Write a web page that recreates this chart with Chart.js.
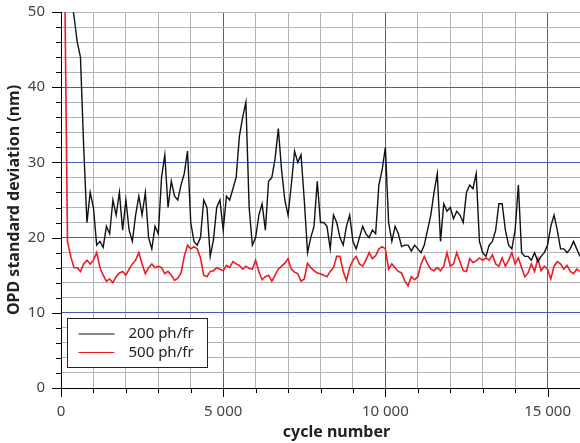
<!DOCTYPE html>
<html>
<head>
<meta charset="utf-8">
<script src="https://cdn.jsdelivr.net/npm/chart.js@4/dist/chart.umd.min.js"></script>
<style>
  html, body { margin: 0; padding: 0; background: #fff; }
  canvas { display: block; }
</style>
</head>
<body>
<canvas id="chart" width="580" height="443"></canvas>
<script>
// cycle number, one sample every 100 cycles
const cycles = [
  0,100,200,300,400,500,600,700,800,900,1000,1100,1200,1300,1400,1500,1600,1700,1800,1900,
  2000,2100,2200,2300,2400,2500,2600,2700,2800,2900,3000,3100,3200,3300,3400,3500,3600,3700,3800,3900,
  4000,4100,4200,4300,4400,4500,4600,4700,4800,4900,5000,5100,5200,5300,5400,5500,5600,5700,5800,5900,
  6000,6100,6200,6300,6400,6500,6600,6700,6800,6900,7000,7100,7200,7300,7400,7500,7600,7700,7800,7900,
  8000,8100,8200,8300,8400,8500,8600,8700,8800,8900,9000,9100,9200,9300,9400,9500,9600,9700,9800,9900,
  10000,10100,10200,10300,10400,10500,10600,10700,10800,10900,11000,11100,11200,11300,11400,11500,11600,11700,11800,11900,
  12000,12100,12200,12300,12400,12500,12600,12700,12800,12900,13000,13100,13200,13300,13400,13500,13600,13700,13800,13900,
  14000,14100,14200,14300,14400,14500,14600,14700,14800,14900,15000,15100,15200,15300,15400,15500,15600,15700,15800,15900,
  16000
]

// OPD standard deviation (nm), 200 photons per frame
const opd200 = [
  90,75,62,52,49.5,46,44,32,22,26,24,19,19.5,18.7,21.5,20.5,25,23,26,21,
  25,21,19.5,23,25.5,23,26,20,18.5,21.5,20.5,28,31,24,27.5,25.5,25,27,28.5,31.5,
  22,19.5,19,20,25,24,17.5,19.7,24,25,21,25.5,25,26.5,28,33.5,36,38,24,19,
  20,23,24.5,21,27.5,28,30.5,34.5,29,25,23,27,31.5,30,31,25,18,20,21.5,27.5,
  22,22,21.5,18.5,23,22,20,19,21.5,23,19.5,18.5,20,21.5,20.5,20,21,20.5,27,29,
  32,22,19.5,21.5,20.5,18.8,19,19,18.2,19,18.5,18,19,21,23,26,28.5,19.5,24.5,23.5,
  24,22.5,23.5,23,22,26,27,26.5,28.5,19.5,18,17.5,19,19.5,21,24.5,24.5,21,19,18.5,
  21,27,18,17.5,17.5,17,18,16.8,17.5,18,19,21.5,23,21,18.5,18.5,18,18.5,19.5,18.5,
  17.5
]

// OPD standard deviation (nm), 500 photons per frame
const opd500 = [
  null,60,19.5,17.5,16,16,15.5,16.5,17,16.5,17,18,16,15,14.2,14.5,14,14.8,15.3,15.5,
  15,15.8,16.5,17,18,16.5,15.2,16,16.5,16,16.2,16,15.2,15.5,15,14.3,14.6,15.3,17.5,19,
  18.5,18.8,18.5,17.3,15,14.8,15.5,15.6,16,15.8,15.6,16.3,16,16.8,16.5,16.3,15.8,16.2,15.9,15.8,
  17,15.5,14.4,14.8,15,14.2,15,15.8,16.2,16.6,17.2,15.8,15.4,15.2,14.2,14.5,16.6,16,15.6,15.3,
  15.2,15,14.8,15.5,16,17.5,17.5,15.5,14.3,16,17,17.5,16.5,16.2,17,18,17.2,17.6,18.5,18.8,
  18.5,15.8,16.5,16,15.5,15.3,14.2,13.6,14.8,14.4,14.8,16.5,17.5,16.5,15.8,15.6,16,15.6,16.2,18,
  16.2,16.5,18,16.8,15.6,15.5,17.2,16.7,16.9,17.3,17,17.3,17,17.7,16.5,16.2,17.3,16.2,17,18,
  16.5,17.3,16,14.8,15.3,16.5,15.5,17.2,15.6,16.2,15.8,14.5,16.2,16.8,16.5,15.8,16.3,15.5,15.2,15.8,
  15.5
]

const seriesLabels = ['200 ph/fr', '500 ph/fr']
const yTitle = 'OPD standard deviation (nm)'
const xTitle = 'cycle number'

const FONT = 'Noto Sans'
const BLUE = '#3f5fb5'
const GRAY = '#b3b3b3'

function fmtThousands(v){
  return String(v).replace(/\B(?=(\d{3})+(?!\d))/g, ' ')
}

// tick marks, legend box and x title drawn on top
const decor = {
  id: 'decor',
  afterDraw(chart){
    const ctx = chart.ctx
    const { left, bottom, right } = chart.chartArea
    const xs = chart.scales.x, ys = chart.scales.y
    ctx.save()
    ctx.strokeStyle = '#000'
    ctx.lineWidth = 1
    ctx.beginPath()
    xs.ticks.forEach(t => {
      const p = Math.round(xs.getPixelForValue(t.value)) + 0.5
      const len = t.value % 5000 === 0 ? 9 : 5
      ctx.moveTo(p, bottom); ctx.lineTo(p, bottom + len)
    })
    ys.ticks.forEach(t => {
      const p = Math.round(ys.getPixelForValue(t.value)) + 0.5
      const len = t.value % 10 === 0 ? 9 : 5
      ctx.moveTo(left, p); ctx.lineTo(left - len, p)
    })
    ctx.stroke()

    // legend
    const bx = left + 6.5, by = bottom - 69.5, bw = 140, bh = 49
    ctx.fillStyle = '#fff'
    ctx.fillRect(bx, by, bw, bh)
    ctx.strokeStyle = '#222'
    ctx.strokeRect(bx, by, bw, bh)
    ctx.font = '15px "' + FONT + '"'
    ctx.textBaseline = 'middle'
    ctx.textAlign = 'left'
    chart.data.datasets.forEach((ds, i) => {
      const ly = by + 15.5 + i * 18.5
      ctx.strokeStyle = ds.borderColor
      ctx.lineWidth = 1.2
      ctx.beginPath(); ctx.moveTo(bx + 11, ly); ctx.lineTo(bx + 47, ly); ctx.stroke()
      ctx.fillStyle = '#222'
      ctx.fillText(ds.label, bx + 61, ly)
    })

    // x axis title
    ctx.font = 'bold 16px "' + FONT + '"'
    ctx.textAlign = 'center'
    ctx.fillStyle = '#222'
    ctx.fillText(xTitle, (left + right) / 2 + 16, 432)
    ctx.restore()
  }
}

const ctx = document.getElementById('chart').getContext('2d')
new Chart(ctx, {
  type: 'line',
  data: {
    datasets: [
      { label: seriesLabels[0], data: cycles.map((c, i) => ({ x: c, y: opd200[i] })), borderColor: '#111', borderWidth: 1.4, pointRadius: 0, tension: 0 },
      { label: seriesLabels[1], data: cycles.map((c, i) => ({ x: c, y: opd500[i] })), borderColor: '#ec1c24', borderWidth: 1.6, pointRadius: 0, tension: 0 }
    ]
  },
  options: {
    responsive: false,
    devicePixelRatio: 1,
    animation: false,
    layout: { padding: { top: 12, right: 0, left: 0, bottom: 0 } },
    plugins: { legend: { display: false }, tooltip: { enabled: false } },
    scales: {
      x: {
        type: 'linear',
        min: 0, max: 16000,
        afterFit: s => { s.height = 55; s.paddingLeft = 0; s.paddingRight = 0 },
        border: { display: true, color: '#000', width: 1 },
        grid: {
          drawTicks: false,
          lineWidth: 1,
          color: c => c.tick.value === 0 ? 'rgba(0,0,0,0)' : (c.tick.value % 5000 === 0 ? BLUE : GRAY)
        },
        ticks: {
          stepSize: 1000,
          autoSkip: false,
          maxRotation: 0,
          padding: 15,
          color: '#444',
          font: { family: FONT, size: 15 },
          callback: v => v % 5000 === 0 ? fmtThousands(v) : ''
        },
        title: { display: false }
      },
      y: {
        min: 0, max: 50,
        afterFit: s => { s.width = 61; s.paddingTop = 0; s.paddingBottom = 0 },
        border: { display: true, color: '#000', width: 1 },
        grid: {
          drawTicks: false,
          lineWidth: 1,
          color: c => c.tick.value === 0 ? 'rgba(0,0,0,0)' : (c.tick.value % 10 === 0 && c.tick.value !== 50 ? BLUE : GRAY)
        },
        ticks: {
          stepSize: 2,
          autoSkip: false,
          padding: 16,
          color: '#444',
          font: { family: FONT, size: 15 },
          callback: v => v % 10 === 0 ? String(v) : ''
        },
        title: {
          display: true,
          text: yTitle,
          color: '#222',
          font: { family: FONT, size: 16, weight: 'bold' },
          padding: { top: 5, bottom: 0 }
        }
      }
    }
  },
  plugins: [decor]
})
</script>
</body>
</html>
